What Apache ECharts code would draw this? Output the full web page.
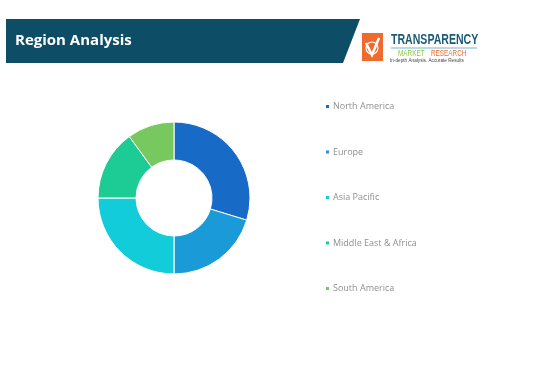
<!DOCTYPE html>
<html>
<head>
<meta charset="utf-8">
<script src="https://cdn.jsdelivr.net/npm/echarts@6/dist/echarts.min.js"></script>
<style>
html,body{margin:0;padding:0;background:#fff;}
#chart{width:549px;height:374px;}
</style>
</head>
<body>
<div id="chart"></div>
<script>
const categories = ["North America", "Europe", "Asia Pacific", "Middle East & Africa", "South America"];
const values = [29.7, 20.3, 25.0, 15.0, 10.0];
const colors = ["#176ac6", "#1a9bd7", "#12cdd9", "#1dcc95", "#78c860"];
const titleText = "Region Analysis";

const chart = echarts.init(document.getElementById('chart'), null, {renderer: 'canvas'});
chart.setOption({
  backgroundColor: '#ffffff',
  animation: false,
  color: colors,
  legend: {
    orient: 'vertical',
    left: 319,
    top: 97,
    itemWidth: 5,
    itemHeight: 5,
    itemGap: 36.5,
    icon: 'rect',
    data: categories,
    textStyle: {fontFamily: 'Open Sans', fontSize: 9, color: '#909090', padding: [0, 0, 0, -2]},
    selectedMode: false
  },
  series: [{
    type: 'pie',
    center: [174, 198],
    radius: [38, 76],
    startAngle: 90,
    clockwise: true,
    label: {show: false},
    labelLine: {show: false},
    itemStyle: {borderColor: '#ffffff', borderWidth: 1},
    emphasis: {disabled: true},
    data: categories.map((c, i) => ({name: c, value: values[i]}))
  }],
  graphic: [
    {type: 'polygon', shape: {points: [[6, 19], [360, 19], [343, 63], [6, 63]]}, style: {fill: '#0e4d66'}},
    {type: 'text', left: 15, top: 33, style: {text: titleText, fill: '#ffffff', font: 'bold 15px "Open Sans", sans-serif'}},
    {type: 'rect', shape: {x: 362, y: 33, width: 21, height: 28}, style: {fill: '#ef6a2c'}},
    {type: 'polyline', shape: {points: [[366, 43], [372, 55], [379, 38]]}, style: {stroke: '#ffffff', lineWidth: 2.5, fill: null}},
    {type: 'circle', shape: {cx: 372, cy: 48, r: 6}, style: {stroke: '#ffffff', lineWidth: 1.2, fill: null}},
    {type: 'text', x: 391, y: 33, scaleX: 0.755, style: {text: 'TRANSPARENCY', fill: '#1b5b78', font: 'bold 14px "Liberation Sans", sans-serif'}},
    {type: 'line', shape: {x1: 391, y1: 48, x2: 477, y2: 48}, style: {stroke: '#6cb6d6', lineWidth: 1}},
    {type: 'text', x: 398, y: 49.5, scaleX: 0.75, style: {text: 'MARKET', fill: '#8cc63f', font: '8.5px "Liberation Sans", sans-serif'}},
    {type: 'text', x: 431, y: 49.5, scaleX: 0.75, style: {text: 'RESEARCH', fill: '#ef6a2c', font: '8.5px "Liberation Sans", sans-serif'}},
    {type: 'text', x: 390, y: 57.5, scaleX: 0.85, style: {text: 'In-depth Analysis. Accurate Results', fill: '#444444', font: '5.5px "Liberation Sans", sans-serif'}}
  ]
});
</script>
</body>
</html>
